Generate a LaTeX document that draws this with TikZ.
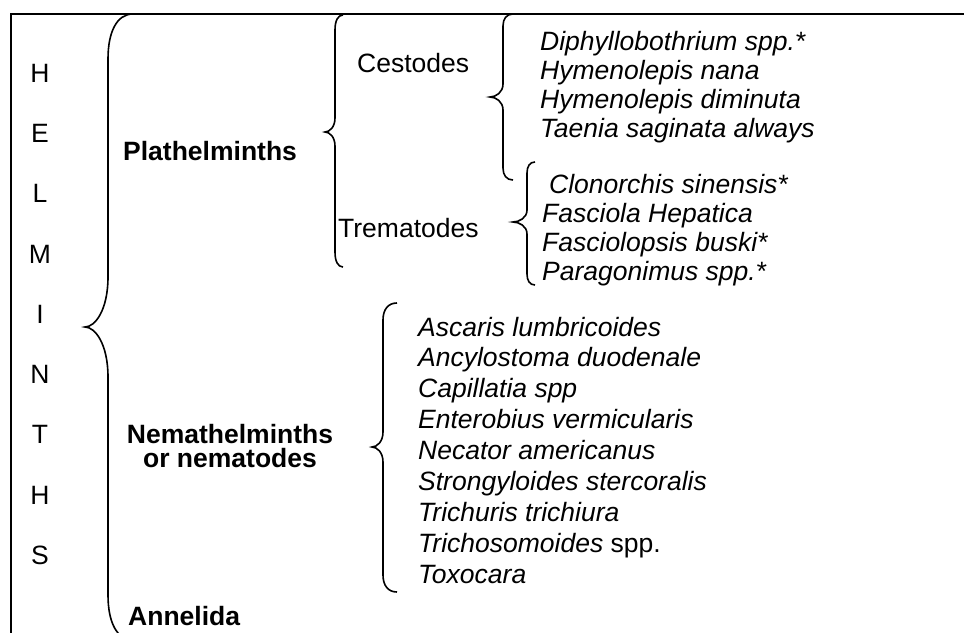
\documentclass[tikz,border=0pt]{standalone}
\usepackage{fontspec}
\setmainfont{Liberation Sans}
\newcommand{\bsz}{\fontsize{26.5}{31}\selectfont}
% #1 x end, #2 x vertical, #3 x tip, #4 y top, #5 y tip, #6 y bottom, #7 end radius, #8 tip radius
\newcommand{\wordbrace}[8]{%
  \draw[bracestyle] (#1,#4) .. controls ({#2+(#1-#2)*0.35},#4) and (#2,{#4+#7*0.4}) .. (#2,{#4+#7})
    -- (#2,{#5-#8}) .. controls (#2,{#5-#8*0.35}) and ({#3+(#2-#3)*0.45},#5) .. (#3,#5)
    .. controls ({#3+(#2-#3)*0.45},#5) and (#2,{#5+#8*0.35}) .. (#2,{#5+#8})
    -- (#2,{#6-#7}) .. controls (#2,{#6-#7*0.4}) and ({#2+(#1-#2)*0.35},#6) .. (#1,#6);}
\tikzset{
  frameline/.style={line width=2.2pt},
  bracestyle/.style={line width=1.6pt},
  letter/.style={inner sep=0pt, anchor=center, font=\bsz},
  item/.style={inner sep=0pt, anchor=base west, font=\bsz\itshape},
  grp/.style={inner sep=0pt, anchor=base west, font=\bsz\bfseries},
  sub/.style={inner sep=0pt, anchor=base west, font=\bsz},
}
\begin{document}
\begin{tikzpicture}[x=1pt,y=-1pt]
\useasboundingbox (0,0) rectangle (964,632);
\clip (0,0) rectangle (964,632);
% frame
\coordinate (fb) at (11,640);
\coordinate (ftl) at (11,14);
\coordinate (fr) at (964,14);
\draw[frameline] (fb) -- (ftl) -- (fr);
% HELMINTHS
\foreach \c [count=\i] in {H,E,L,M,I,N,T,H,S}
  \node[letter] (hl\i) at (40,{73+60.3*(\i-1)}) {\c};
% braces
\wordbrace{133}{108}{85}{14}{327}{640}{45}{50}
\wordbrace{343}{335}{325}{15}{132}{267}{15}{14}
\wordbrace{513}{503}{490}{14}{97}{180}{12}{13}
\wordbrace{535}{527}{513}{162}{222}{285}{11}{12}
\wordbrace{397}{383}{372}{303}{447}{592}{17}{15}
% groups
\node[grp] (plat) at (123,160) {Plathelminths};
\node[grp,anchor=base] (nem1) at (230,443) {Nemathelminths};
\node[grp,anchor=base] (nem2) at (230,467) {or nematodes};
\node[grp] (ann) at (128,625) {Annelida};
\node[sub] (ces) at (357,72) {Cestodes};
\node[sub] (tre) at (338,237) {Trematodes};
% cestode list
\foreach \t [count=\i] in {Diphyllobothrium spp.*,Hymenolepis nana,Hymenolepis diminuta,Taenia saginata always}
  \node[item] (ce\i) at (540,{50+29.3*(\i-1)}) {\t};
% trematode list
\node[item] (tr1) at (549,193) {Clonorchis sinensis*};
\foreach \t [count=\i from 2] in {Fasciola Hepatica,Fasciolopsis buski*,Paragonimus spp.*}
  \node[item] (tr\i) at (542,{193+29*(\i-1)}) {\t};
% nematode list
\foreach \t [count=\i] in {Ascaris lumbricoides,Ancylostoma duodenale,Capillatia spp,Enterobius vermicularis,Necator americanus,Strongyloides stercoralis,Trichuris trichiura,{Trichosomoides\upshape{} spp.},Toxocara}
  \node[item] (ne\i) at (418,{336+30.9*(\i-1)}) {\t};
\end{tikzpicture}
\end{document}
